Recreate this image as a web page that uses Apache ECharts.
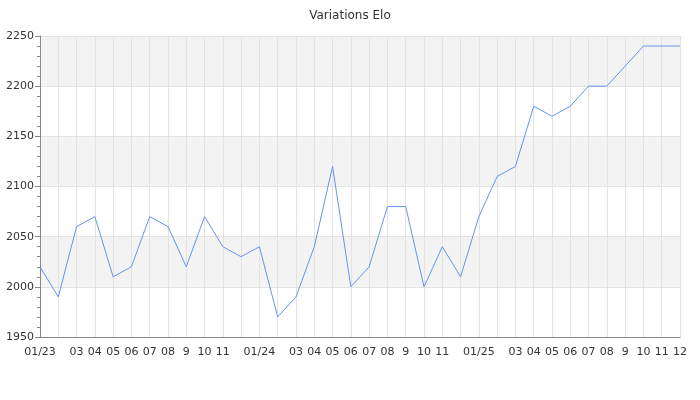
<!DOCTYPE html>
<html><head><meta charset="utf-8">
<script src="https://cdn.jsdelivr.net/npm/echarts@6/dist/echarts.min.js"></script>
<style>html,body{margin:0;padding:0;background:#fff}#c{width:700px;height:400px}</style>
</head><body><div id="c"></div>
<script>
var categories = ["2023-01","2023-02","2023-03","2023-04","2023-05","2023-06","2023-07","2023-08","2023-09","2023-10","2023-11","2023-12",
"2024-01","2024-02","2024-03","2024-04","2024-05","2024-06","2024-07","2024-08","2024-09","2024-10","2024-11","2024-12",
"2025-01","2025-02","2025-03","2025-04","2025-05","2025-06","2025-07","2025-08","2025-09","2025-10","2025-11","2025-12"];
var tickLabels = ["01/23","","03","04","05","06","07","08","9","10","11","",
"01/24","","03","04","05","06","07","08","9","10","11","",
"01/25","","03","04","05","06","07","08","9","10","11","12"];
var elo = [2020,1990,2060,2070,2010,2020,2070,2060,2020,2070,2040,2030,
2040,1970,1990,2040,2120,2000,2020,2080,2080,2000,2040,2010,
2070,2110,2120,2180,2170,2180,2200,2200,2220,2240,2240,2240];
var chart = echarts.init(document.getElementById('c'));
chart.setOption({
  animation:false,
  textStyle:{fontFamily:'DejaVu Sans'},
  title:{text:'Variations Elo',left:'center',top:5,textStyle:{fontSize:12,fontWeight:'normal',color:'#333',fontFamily:'DejaVu Sans'}},
  grid:{left:40,right:20,top:36,bottom:63},
  xAxis:{type:'category',data:categories,boundaryGap:false,
    axisLine:{lineStyle:{color:'#888'}},axisTick:{show:false},
    axisLabel:{interval:0,color:'#333',fontSize:11,margin:10,formatter:function(v,i){return tickLabels[i];}},
    splitLine:{show:true,lineStyle:{color:'#e3e3e3'}}},
  yAxis:{type:'value',min:1950,max:2250,interval:50,
    axisLine:{show:true,lineStyle:{color:'#888'}},
    axisTick:{show:true,length:5,lineStyle:{color:'#888'}},
    minorTick:{show:true,splitNumber:5,length:3,lineStyle:{color:'#888'}},
    axisLabel:{color:'#333',fontSize:11,margin:6,formatter:function(v){return String(v);}},
    splitLine:{show:true,lineStyle:{color:'#e3e3e3'}},
    splitArea:{show:true,areaStyle:{color:['#ffffff','#f3f3f3']}}},
  series:[{type:'line',data:elo,symbol:'none',lineStyle:{width:1,color:'#6495ED'},itemStyle:{color:'#6495ED'}}]
});
</script></body></html>
